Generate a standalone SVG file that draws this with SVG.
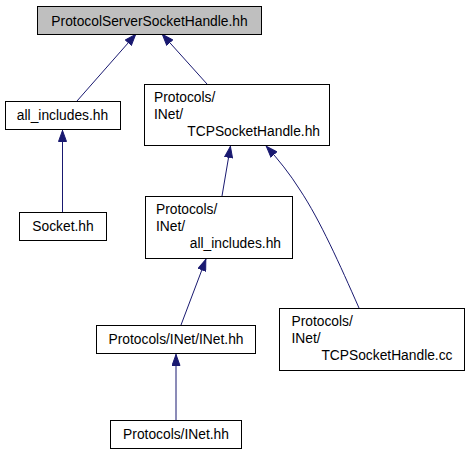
<svg xmlns="http://www.w3.org/2000/svg" width="469" height="453" viewBox="0 0 469 453">
<style>
.box{fill:#ffffff;stroke:#000000;stroke-width:1}
.root{fill:#bfbfbf;stroke:#000000;stroke-width:1}
text{font-family:"Liberation Sans",Arial,sans-serif;font-size:13.8px;fill:#000000}
.c{text-anchor:middle}
.r{text-anchor:end}
.edge{fill:none;stroke:#191970;stroke-width:1}
</style>
<defs>
<marker id="ah" viewBox="0 0 12 9" refX="12" refY="4.5" markerWidth="12" markerHeight="9" markerUnits="userSpaceOnUse" orient="auto">
<path d="M0.5,0.5 L11.5,4.5 L0.5,8.5 z" fill="#191970" stroke="#191970" stroke-width="1"/>
</marker>
</defs>
<rect width="469" height="453" fill="#ffffff"/>
<g id="edges">
<path class="edge" marker-end="url(#ah)" d="M77,101 L136,34"/>
<path class="edge" marker-end="url(#ah)" d="M207,84 L162,34"/>
<path class="edge" marker-end="url(#ah)" d="M62.5,212 L62.5,130"/>
<path class="edge" marker-end="url(#ah)" d="M222,196 L230.5,146"/>
<path class="edge" marker-end="url(#ah)" d="M359,308 C340,265 320,220 300,190 C290,174 278,159 266,146"/>
<path class="edge" marker-end="url(#ah)" d="M181,325 L206,259"/>
<path class="edge" marker-end="url(#ah)" d="M176,420 L176,354"/>
</g>
<g id="n_root">
<rect class="root" x="37.5" y="6.5" width="224" height="28"/>
<text class="c" x="149.5" y="26">ProtocolServerSocketHandle.hh</text>
</g>
<g id="n_all_includes">
<rect class="box" x="5.5" y="101.5" width="115" height="28"/>
<text class="c" x="62.5" y="120">all_includes.hh</text>
</g>
<g id="n_tcp_hh">
<rect class="box" x="144.5" y="84.5" width="185" height="61"/>
<text x="154" y="102">Protocols/</text>
<text x="154" y="119">INet/</text>
<text class="r" x="320" y="136">TCPSocketHandle.hh</text>
</g>
<g id="n_socket">
<rect class="box" x="19.5" y="212.5" width="87" height="28"/>
<text class="c" x="63" y="231">Socket.hh</text>
</g>
<g id="n_inet_all">
<rect class="box" x="145.5" y="196.5" width="147" height="62"/>
<text x="156" y="214">Protocols/</text>
<text x="156" y="231">INet/</text>
<text class="r" x="281" y="248">all_includes.hh</text>
</g>
<g id="n_inet_inet">
<rect class="box" x="96.5" y="325.5" width="159" height="28"/>
<text class="c" x="176" y="344">Protocols/INet/INet.hh</text>
</g>
<g id="n_tcp_cc">
<rect class="box" x="279.5" y="308.5" width="185" height="62"/>
<text x="291.5" y="326">Protocols/</text>
<text x="291.5" y="343">INet/</text>
<text class="r" x="452.5" y="360">TCPSocketHandle.cc</text>
</g>
<g id="n_inet">
<rect class="box" x="110.5" y="420.5" width="131" height="28"/>
<text class="c" x="176" y="439">Protocols/INet.hh</text>
</g>
</svg>
